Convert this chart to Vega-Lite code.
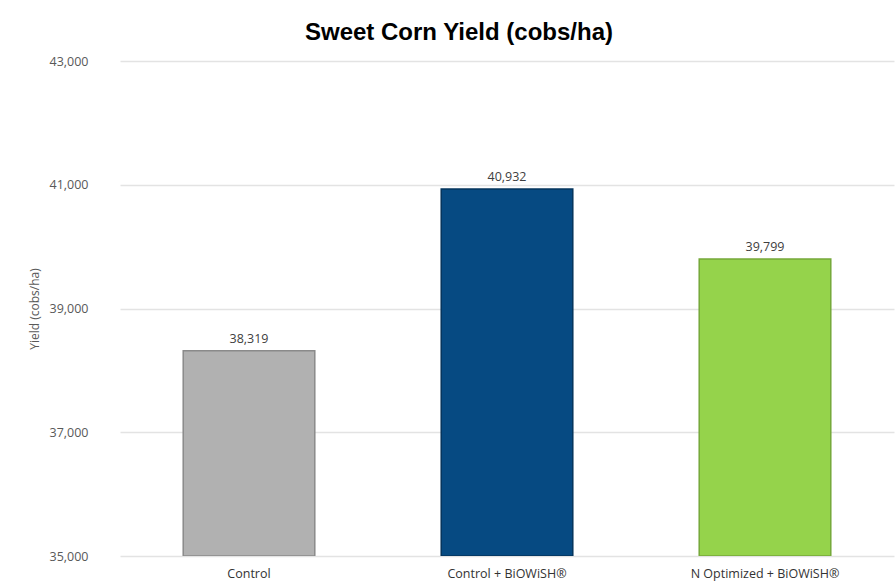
{
  "$schema": "https://vega.github.io/schema/vega-lite/v6.json",
  "width": 774,
  "height": 495,
  "autosize": {"type": "none"},
  "padding": {"left": 120, "top": 61, "right": 2, "bottom": 32},
  "background": "white",
  "title": {
    "text": "Sweet Corn Yield (cobs/ha)",
    "font": "Liberation Sans",
    "fontSize": 24,
    "fontWeight": "bold",
    "color": "#000000",
    "anchor": "middle",
    "dx": -48,
    "offset": 10
  },
  "data": {
    "values": [
      {"treatment": "Control", "yield": 38319},
      {"treatment": "Control + BiOWiSH®", "yield": 40932},
      {"treatment": "N Optimized + BiOWiSH®", "yield": 39799}
    ]
  },
  "encoding": {
    "x": {
      "field": "treatment",
      "type": "nominal",
      "sort": null,
      "scale": {"paddingInner": 0.49, "paddingOuter": 0.245},
      "axis": {
        "title": null,
        "labelAngle": 0,
        "labelFont": "Open Sans",
        "labelFontSize": 12.5,
        "labelColor": "#333333",
        "labelPadding": 11,
        "ticks": false,
        "domain": false,
        "grid": false
      }
    },
    "y": {
      "field": "yield",
      "type": "quantitative",
      "scale": {"domain": [35000, 43000], "nice": false, "zero": false},
      "axis": {
        "title": "Yield (cobs/ha)",
        "titleFont": "Open Sans",
        "titleFontSize": 12,
        "titleFontWeight": "normal",
        "titleColor": "#595959",
        "titlePadding": 8,
        "values": [35000, 37000, 39000, 41000, 43000],
        "format": ",d",
        "labelFont": "Open Sans",
        "labelFontSize": 12.5,
        "labelColor": "#595959",
        "labelPadding": 32,
        "ticks": false,
        "domain": false,
        "grid": true,
        "gridColor": "#e3e3e3",
        "gridWidth": 1.5
      }
    }
  },
  "layer": [
    {
      "mark": {"type": "bar", "clip": true, "strokeWidth": 1.5},
      "encoding": {
        "y2": {"datum": 35000},
        "color": {
          "field": "treatment",
          "type": "nominal",
          "legend": null,
          "scale": {
            "domain": ["Control", "Control + BiOWiSH®", "N Optimized + BiOWiSH®"],
            "range": ["#b1b1b1", "#064a82", "#95d34b"]
          }
        },
        "stroke": {
          "field": "treatment",
          "type": "nominal",
          "legend": null,
          "scale": {
            "domain": ["Control", "Control + BiOWiSH®", "N Optimized + BiOWiSH®"],
            "range": ["#8a8a8a", "#04345c", "#75a83a"]
          }
        }
      }
    },
    {
      "mark": {
        "type": "text",
        "baseline": "bottom",
        "dy": -5,
        "font": "Open Sans",
        "fontSize": 12.5,
        "color": "#404040"
      },
      "encoding": {
        "text": {"field": "yield", "type": "quantitative", "format": ",d"}
      }
    }
  ],
  "config": {"view": {"stroke": null}}
}
